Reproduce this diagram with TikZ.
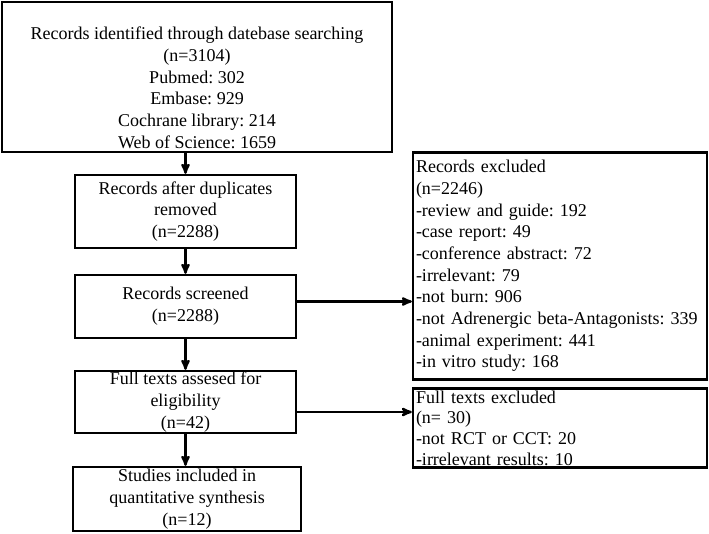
\documentclass[tikz,border=0pt]{standalone}
\usepackage{fontspec}
\setmainfont{Liberation Serif}
\usetikzlibrary{arrows}
\frenchspacing

\begin{document}
\begin{tikzpicture}[->,line width=2.3pt,>=stealth',x=1pt,y=-1pt]
    \tikzstyle{box}=[draw=black, rectangle, inner xsep=3pt, inner ysep=0pt, fill=none, text=black, font=\fontsize{18}{21.7}\selectfont, align=center]
    \tikzstyle{main}=[style=box, minimum width=221pt]
    \tikzstyle{side}=[style=box, minimum width=294pt, text width=288pt, align=left]

    \useasboundingbox (0,0) rectangle (709,533);

    \node[box, minimum width=390pt, minimum height=150pt] (ident) at (197,77)
      {\rule{0pt}{34pt}Records identified through datebase searching\\(n=3104)\\Pubmed: 302\\Embase: 929\\Cochrane library: 214\\Web of Science: 1659};
    \node[main, minimum height=73pt] (dup)    at (185.5,211.5) {Records after duplicates\\removed\\(n=2288)};
    \node[main, minimum height=63pt] (screen) at (185.5,306.5) {Records screened\\(n=2288)};
    \node[main, minimum height=62pt] (full)   at (185.5,402)   {Full texts assesed for\\eligibility\\(n=42)};
    \node[main, minimum width=228pt, minimum height=64pt] (incl) at (187,499) {Studies included in\\quantitative synthesis\\(n=12)};
    \node[side, minimum height=227pt] (excl)  at (560,266)
      {Records excluded\\(n=2246)\\-review and guide: 192\\-case report: 49\\-conference abstract: 72\\-irrelevant: 79\\-not burn: 906\\-not Adrenergic beta-Antagonists: 339\\-animal experiment: 441\\-in vitro study: 168};
    \node[side, minimum height=79pt, font=\fontsize{18}{20.7}\selectfont] (fexcl) at (560,428)
      {Full texts excluded\\(n= 30)\\-not RCT or CCT: 20\\-irrelevant results: 10};

    \path
     (dup.north |- ident.south) edge (dup)
     (dup) edge (screen)
     (screen.south -| full.north) edge (full)
     (full.south -| dup.south) edge (incl.north -| dup.south)
     ([yshift=5pt]screen.east) edge ([yshift=5pt]screen.east -| excl.west)
     ([yshift=-10pt]full.east) edge ([yshift=-10pt]full.east -| fexcl.west)
     ;
\end{tikzpicture}
\end{document}
